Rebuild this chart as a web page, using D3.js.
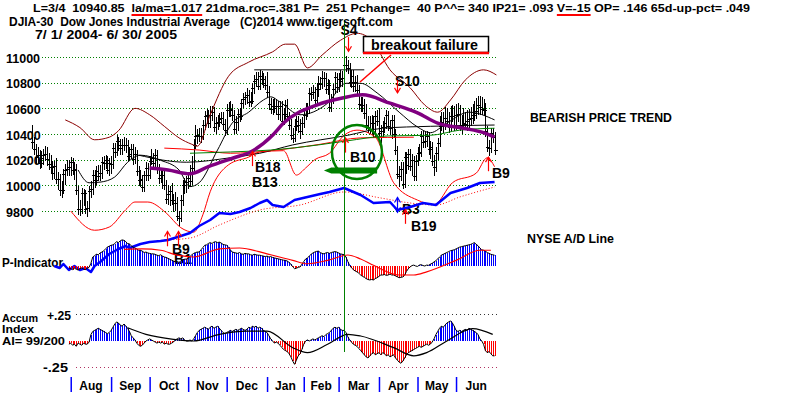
<!DOCTYPE html>
<html>
<head>
<meta charset="utf-8">
<title>DJIA-30 Dow Jones Industrial Average</title>
<script src="https://d3js.org/d3.v7.min.js"></script>
<style>
  body { margin: 0; background: #fff; }
  svg { display: block; font-family: 'Liberation Sans', Arial, Helvetica, sans-serif; font-weight: bold; }
</style>
</head>
<body>
<script>
// daily bars, day 0 = 7/1/2004 ... day 252 = 6/30/2005
var highs = [
  10470,10375,10320,10295,10275,10265,10285,10305,10300,10255,10240,10190,10190,10215,10105,10085,10030,10125,10165,10200,10195,
  10220,10215,10180,10165,9995,9885,9980,9975,9965,9880,9995,10030,10120,10120,10150,10155,10160,10220,10230,10240,10230,10215,
  10230,10330,10330,10390,10380,10360,10360,10375,10370,10350,10295,10320,10320,10300,10275,10150,10120,10080,10115,10180,10175,
  10230,10285,10255,10280,10275,10165,10125,10115,10130,10040,10000,9995,10015,9930,9950,9910,9800,9925,10040,10055,10070,
  10100,10160,10230,10360,10470,10440,10450,10450,10510,10580,10595,10585,10620,10620,10610,10530,10550,10565,10570,10575,10520,
  10630,10650,10660,10630,10590,10540,10595,10600,10675,10720,10730,10755,10740,10730,10800,10860,10880,10880,10900,10890,10875,10850,
  10885,10775,10680,10670,10680,10670,10655,10655,10655,10605,10665,10670,10575,10520,10450,10515,10540,10540,10520,10530,
  10595,10640,10645,10755,10765,10780,10765,10790,10850,10845,10890,10885,10875,10830,10820,10715,10790,10880,10875,
  10875,10900,10890,11040,11010,10980,10950,10895,10900,10850,10860,10785,10690,10685,10670,10630,10540,10540,10550,10540,10580,10590,
  10600,10470,10500,10535,10590,10580,10510,10550,10545,10440,10310,10150,10180,10180,10260,10260,10285,10280,10245,10230,10240,
  10300,10320,10425,10420,10420,10425,10415,10345,10340,10240,10295,10370,10540,10575,10570,10610,10605,10575,10620,10625,10615,
  10635,10640,10625,10550,10605,10575,10585,10595,10610,10630,10660,10680,10700,10700,10685,10670,10640,10460,10350,10445,10450,10415
];
var lows = [
  10280,10235,10170,10165,10130,10135,10160,10190,10150,10120,10095,10040,10050,10010,9960,9920,9900,9930,10000,10070,10075,
  10070,10080,10040,9925,9770,9760,9780,9840,9775,9750,9790,9905,9925,9980,10000,10030,10030,10050,10120,10130,10085,10070,
  10090,10130,10210,10225,10265,10240,10240,10265,10255,10190,10195,10205,10160,10170,10070,9995,9990,9945,9945,10030,10030,
  10050,10160,10130,10140,10085,10010,10020,9970,9960,9855,9850,9840,9850,9790,9800,9720,9680,9715,9840,9930,9940,
  9970,9990,10000,10100,10280,10325,10335,10330,10350,10430,10475,10445,10450,10500,10415,10400,10430,10455,10475,10430,10385,
  10395,10530,10535,10500,10400,10400,10420,10495,10510,10600,10625,10630,10610,10610,10630,10715,10770,10740,10740,10780,10760,10740,
  10680,10585,10555,10550,10560,10550,10510,10500,10465,10470,10490,10500,10430,10355,10330,10335,10420,10410,10360,10395,
  10450,10510,10530,10555,10660,10670,10620,10625,10690,10740,10750,10770,10715,10705,10570,10570,10630,10710,10720,
  10730,10765,10770,10800,10885,10865,10765,10760,10730,10730,10705,10590,10570,10570,10520,10430,10410,10400,10405,10370,10370,10460,
  10365,10330,10370,10410,10440,10420,10395,10360,10365,10240,10050,9990,10035,9970,9980,10090,10120,10110,10070,10030,10035,
  10150,10190,10220,10290,10290,10300,10240,10205,10150,10070,10105,10200,10295,10420,10410,10435,10460,10410,10425,10490,10425,
  10430,10490,10420,10400,10430,10430,10420,10450,10465,10475,10500,10520,10545,10550,10550,10540,10380,10260,10230,10255,10330,10235
];
var closes = [
  10334,10282,10219,10240,10171,10214,10238,10247,10208,10163,10139,10094,10149,10046,10050,9962,9961,10085,10117,10129,10140,
  10179,10120,10127,9963,9815,9814,9944,9938,9814,9825,9954,9972,10083,10040,10110,10073,10098,10181,10173,10195,10122,10173,
  10168,10290,10260,10342,10313,10289,10313,10314,10318,10231,10244,10284,10204,10244,10109,10039,10047,9988,10077,10136,10080,
  10192,10216,10177,10239,10126,10055,10081,10077,10002,9894,9933,9956,9886,9866,9865,9758,9749,9888,10002,10004,10027,
  10054,10035,10137,10315,10387,10391,10386,10385,10469,10539,10551,10487,10549,10572,10456,10489,10492,10520,10522,10475,10428,
  10590,10585,10592,10547,10440,10494,10553,10543,10638,10676,10691,10705,10649,10661,10759,10815,10827,10777,10854,10829,10800,10783,
  10729,10630,10597,10622,10603,10621,10556,10617,10505,10558,10628,10539,10471,10393,10368,10462,10498,10467,10427,10489,
  10551,10596,10593,10716,10715,10724,10664,10749,10796,10791,10837,10834,10754,10785,10611,10673,10748,10841,10766,
  10830,10811,10833,10941,10936,10912,10805,10851,10774,10804,10745,10633,10626,10629,10565,10471,10457,10442,10485,10405,10540,10504,
  10404,10421,10458,10486,10546,10461,10448,10508,10403,10278,10087,10071,10128,10012,10219,10157,10242,10151,10198,10071,10193,
  10251,10256,10384,10340,10345,10384,10281,10300,10189,10140,10252,10331,10464,10493,10471,10523,10504,10457,10542,10542,10467,
  10550,10553,10460,10467,10483,10476,10503,10513,10522,10547,10566,10578,10623,10609,10596,10587,10421,10297,10290,10405,10374,10275
];

var priceTicks = [9800, 10000, 10200, 10400, 10600, 10800, 11000];
var monthNames = ["Aug", "Sep", "Oct", "Nov", "Dec", "Jan", "Feb", "Mar", "Apr", "May", "Jun"];
var monthStarts = [21, 43, 64, 85, 106, 128, 148, 167, 189, 210, 231];
var lastDay = 253;

// overlays on the price panel: [day, value]
var upperBand = [[18,10510],[26,10450],[34,10355],[42,10375],[47,10425],[56,10600],[64,10550],[72,10460],[80,10370],[87,10320],[90,10305],[97,10550],[107,10850],[118,10960],[131,11040],[138,11100],[143,11100],[150,10915],[158,11015],[168,11130],[177,11185],[185,11130],[195,10900],[206,10760],[214,10625],[221,10570],[228,10665],[236,10820],[246,10900],[253,10860]];
var lowerBand = [[21,9800],[34,9650],[42,9675],[51,9810],[56,9870],[63,9870],[73,9785],[81,9670],[88,9635],[93,9770],[97,9950],[107,10160],[118,10220],[124,10260],[137,10270],[144,10080],[149,10135],[154,10200],[162,10250],[170,10390],[177,10430],[187,10375],[197,10020],[210,9885],[219,9850],[229,10020],[242,10095],[248,10215],[252,10145]];
var ma21 = [[25,10120],[31,10020],[37,10025],[45,10065],[52,10180],[59,10235],[70,10195],[80,10120],[86,9990],[91,10020],[101,10275],[109,10485],[118,10570],[126,10665],[130,10690],[135,10650],[146,10550],[161,10640],[171,10795],[179,10795],[188,10720],[200,10570],[210,10455],[217,10410],[226,10485],[238,10570],[252,10510]];
var maLong = [[58,10235],[84,10180],[108,10215],[124,10250],[142,10315],[172,10390],[191,10445],[217,10460],[252,10470]];
var maRed = [[72,10290],[91,10275],[108,10250],[130,10270],[157,10320],[179,10370],[208,10375]];
var maGreen = [[86,10250],[108,10260],[130,10275],[156,10315],[171,10345],[194,10385],[217,10390],[233,10430],[252,10445]];
var maPurple = [[64,10135],[74,10120],[86,10090],[96,10145],[110,10215],[119,10260],[131,10390],[137,10485],[155,10625],[169,10680],[180,10705],[195,10640],[210,10565],[221,10485],[235,10445],[246,10410],[252,10375]];
var adLine = [[12,9],[15,7],[17,11],[20,5],[23,9],[26,5],[29,7],[32,3],[34,9],[37,13],[42,21],[47,26],[51,29],[53,27],[59,31],[64,33],[70,34],[74,35],[81,39],[86,42],[91,49],[97,55],[102,62],[108,61],[113,63],[119,67],[124,72],[128,75],[131,70],[137,68],[143,75],[150,78],[157,81],[162,83],[170,87],[179,80],[186,72],[195,73],[199,65],[206,68],[213,72],[220,70],[228,82],[237,87],[244,92],[252,93]];
var adMA = [[72,35],[86,37],[102,50],[124,65],[146,70],[170,83],[190,77],[206,72],[220,70],[233,78],[252,88]];
var resistanceDays = [121, 181], resistanceLevel = 10900;

// P-Indicator and Accumulation Index, daily from day 20
var indStart = 20;
var pIndicator = [
  -40,-60,-80,-50,-70,-90,-60,-40,-70,-80,-50,-30,60,
  200,230,260,250,290,310,340,380,420,440,460,
  470,500,540,520,560,580,570,540,500,490,
  450,420,400,380,350,350,330,300,310,290,280,270,
  270,260,240,230,250,220,200,190,170,150,130,110,
  90,100,80,110,140,150,155,170,210,250,280,300,310,
  310,360,410,460,470,500,520,500,530,540,520,
  530,510,480,470,460,420,360,310,300,290,
  280,300,270,260,280,270,270,250,240,260,250,240,
  240,230,220,210,220,200,210,190,180,170,160,150,
  140,130,125,110,80,40,-20,-60,-50,-30,-20,40,100,155,
  180,220,260,290,310,325,330,300,280,270,290,300,280,300,310,320,
  310,290,270,260,251,200,100,15,-40,-80,-110,
  -130,-160,-200,-230,-250,-280,-300,-310,-300,-310,-280,-260,-230,-200,
  -200,-190,-210,-200,-180,-200,-200,-220,-240,-260,-250,-245,-200,-120,-60,
  -20,10,20,0,-10,20,30,10,0,20,15,40,60,90,120,
  155,200,240,260,280,300,320,340,350,360,380,400,420,430,440,
  450,460,470,480,500,520,480,450,400,360,350,330,300,280,260,250,240
];
var pMA = [[50,370],[60,380],[70,350],[79,240],[88,200],[102,380],[113,400],[128,270],[142,125],[150,50],[161,125],[172,245],[179,155],[186,15],[200,-200],[208,-200],[215,-130],[231,125],[244,350],[250,350]];
var accum = [
  -3,-2,-4,-3,-5,-2,-3,-4,-2,-3,-3,-1,6,
  9,10,11,12,11,10,9,8,7,8,10,
  13,16,18,17,15,14,16,14,12,9,
  5,3,1,-2,-4,-5,-4,-2,0,1,2,1,
  0,-1,-2,-1,-2,-1,-3,-2,-3,-3,-2,-1,
  1,2,3,2,3,1,0,0,1,0,2,5,8,
  10,11,12,13,12,11,13,14,12,13,14,
  12,10,8,7,8,9,10,9,10,11,
  10,11,12,11,10,11,13,12,14,13,14,12,
  13,12,10,9,8,5,2,0,-2,-1,-2,-4,
  -6,-8,-9,-10,-12,-15,-19,-22,-18,-14,-12,-8,-3,0,
  1,0,1,2,1,2,3,4,5,4,6,7,8,10,12,13,
  12,13,11,10,10,8,4,1,-1,-3,-4,
  -5,-7,-9,-11,-13,-15,-16,-14,-12,-11,-13,-12,-11,-13,
  -11,-12,-14,-13,-15,-14,-13,-16,-18,-20,-21,-19,-16,-13,-11,
  -10,-9,-8,-7,-6,-5,-6,-5,-4,-3,-4,-3,-1,2,6,
  9,12,14,13,15,17,18,19,17,14,10,9,10,9,10,
  11,10,12,11,10,9,8,6,2,0,-3,-9,-11,-10,-12,-14,-14
];
var accumMA = [[52,12.5],[62,6.3],[77,1.6],[88,0],[102,6.3],[117,9.4],[128,9.4],[142,-6.3],[150,-11],[161,-3.1],[172,6.3],[179,4.7],[197,-6.3],[208,-14],[215,-11],[226,0],[240,11.6],[251,6.3]];

// signals
var signalDay = 170;
var arrows = [
  {day: 172, from: 11155, to: 11045},
  {day: 199, from: 10820, to: 10720},
  {day: 120, from: 10150, to: 10265},
  {day: 170.5, from: 10255, to: 10370},
  {day: 248.5, from: 10110, to: 10220},
  {day: 203, from: 9700, to: 9810},
  {day: 73.5, from: 9525, to: 9640},
  {day: 79.5, from: 9525, to: 9640}
];
var signalLabels = [
  {text: "S4", day: 168, price: 11170},
  {text: "S10", day: 197.7, price: 10775},
  {text: "B18", day: 121.4, price: 10105},
  {text: "B13", day: 119.8, price: 9985},
  {text: "B10", day: 173.2, price: 10180},
  {text: "B9", day: 250.6, price: 10055},
  {text: "B3", day: 201.5, price: 9775},
  {text: "B19", day: 206.4, price: 9645},
  {text: "B9", day: 76.2, price: 9465},
  {text: "B1", day: 77.3, price: 9390}
];

var W = 800, H = 397;
var FONT = "'Liberation Sans', Arial, Helvetica, sans-serif";
var svg = d3.select('body').append('svg')
    .attr('width', W)
    .attr('height', H);
svg.append('rect').attr('width', W).attr('height', H).attr('fill', '#fff');

var x = d3.scaleLinear().domain([0, lastDay]).range([32.2, 496.4]);
var yPrice = d3.scaleLinear().domain([9800, 11000]).range([211, 57]);
var yAD = d3.scaleLinear().domain([0, 100]).range([275, 175]);
var yP = d3.scaleLinear().domain([-600, 600]).range([293, 239]);
var yAI = d3.scaleLinear().domain([-25, 25]).range([367.5, 314.5]);
function px(d) { return Math.round(x(d)) + 0.5; }

// price grid
svg.append('g').selectAll('line').data(priceTicks).join('line')
    .attr('x1', 42).attr('x2', 498)
    .attr('y1', d => Math.round(yPrice(d)) + 0.5).attr('y2', d => Math.round(yPrice(d)) + 0.5)
    .attr('stroke', '#008000').attr('stroke-dasharray', '1,2');

var yAxis = d3.axisRight(yPrice).tickValues(priceTicks).tickSize(0).tickPadding(0).tickFormat(d3.format('d'));
var yg = svg.append('g').attr('transform', 'translate(6,0)').call(yAxis);
yg.select('.domain').remove();
yg.attr('font-size', 12.5).attr('font-family', FONT).attr('font-weight', 'bold');
yg.selectAll('text').attr('fill', '#000').attr('dy', '0.42em');

// AI grid
svg.append('line').attr('x1', 76).attr('x2', 498).attr('y1', 314.5).attr('y2', 314.5)
    .attr('stroke', '#333').attr('stroke-dasharray', '1,3');
svg.append('line').attr('x1', 76).attr('x2', 498).attr('y1', 367.5).attr('y2', 367.5)
    .attr('stroke', '#b03060').attr('stroke-dasharray', '1,3');

function pline(pts, scale, curve) {
    return d3.line().x(d => x(d[0])).y(d => scale(d[1])).curve(curve || d3.curveMonotoneX)(pts);
}

// bars
var days = d3.range(closes.length);
var bars = svg.append('g').attr('stroke', '#000').attr('shape-rendering', 'crispEdges');
bars.selectAll('line.hl').data(days).join('line').attr('class', 'hl')
    .attr('x1', px).attr('x2', px)
    .attr('y1', i => yPrice(highs[i])).attr('y2', i => yPrice(lows[i]));
bars.selectAll('line.cl').data(days).join('line').attr('class', 'cl')
    .attr('x1', i => px(i) - 2).attr('x2', i => px(i) + 2)
    .attr('y1', i => Math.round(yPrice(closes[i])) + 0.5).attr('y2', i => Math.round(yPrice(closes[i])) + 0.5);

// overlay lines
svg.append('path').attr('d', pline(upperBand, yPrice)).attr('fill', 'none').attr('stroke', '#8b0000').attr('stroke-width', 1);
svg.append('path').attr('d', pline(lowerBand, yPrice)).attr('fill', 'none').attr('stroke', '#ff0000').attr('stroke-width', 1);
svg.append('path').attr('d', pline(maLong, yPrice)).attr('fill', 'none').attr('stroke', '#000').attr('stroke-width', 1);
svg.append('path').attr('d', pline(maRed, yPrice)).attr('fill', 'none').attr('stroke', '#ff0000').attr('stroke-width', 1);
svg.append('path').attr('d', pline(maGreen, yPrice)).attr('fill', 'none').attr('stroke', '#008000').attr('stroke-width', 1);
svg.append('path').attr('d', pline(ma21, yPrice)).attr('fill', 'none').attr('stroke', '#000').attr('stroke-width', 1);
svg.append('path').attr('d', pline(maPurple, yPrice)).attr('fill', 'none').attr('stroke', '#800080').attr('stroke-width', 3.5);
svg.append('line')
    .attr('x1', x(resistanceDays[0])).attr('x2', x(resistanceDays[1]))
    .attr('y1', yPrice(resistanceLevel)).attr('y2', yPrice(resistanceLevel))
    .attr('stroke', '#000').attr('stroke-width', 1);

// panel labels (drawn under the lines and bars)
function label(t, lx, ly, size, len) {
    var el = svg.append('text').attr('x', lx).attr('y', ly).attr('font-size', size)
        .attr('font-family', FONT).attr('font-weight', 'bold').attr('fill', '#000')
        .style('white-space', 'pre').text(t);
    if (len) el.attr('textLength', len).attr('lengthAdjust', 'spacingAndGlyphs');
    return el;
}
label('P-Indicator', 2, 267, 12, 61);
label('Accum', 2, 321.5, 11, 36);
label('Index', 2, 333, 11, 32);
label('AI= 99/200', 2, 344.5, 11.5, 63);
label('+.25', 47, 320, 12, 24);
label('-.25', 43, 372, 12, 25);
label('BEARISH PRICE TREND', 530, 122, 12, 142);
label('NYSE A/D Line', 527, 243, 12, 87);

// signal labels
svg.append('g').selectAll('text').data(signalLabels).join('text')
    .attr('x', d => x(d.day)).attr('y', d => yPrice(d.price))
    .attr('font-size', 14).attr('font-family', FONT).attr('font-weight', 'bold').attr('fill', '#000')
    .text(d => d.text);

// A/D line
svg.append('path').attr('d', pline(adMA, yAD)).attr('fill', 'none').attr('stroke', '#ff0000')
    .attr('stroke-width', 1).attr('stroke-dasharray', '1,2');
svg.append('path').attr('d', pline(adLine, yAD, d3.curveLinear)).attr('fill', 'none').attr('stroke', '#0000ff')
    .attr('stroke-width', 2.5).attr('stroke-linejoin', 'round');

// histograms
function histogram(vals, scale, ma) {
    var g = svg.append('g').attr('shape-rendering', 'crispEdges');
    g.selectAll('line').data(vals).join('line')
        .attr('x1', (v, i) => px(i + indStart)).attr('x2', (v, i) => px(i + indStart))
        .attr('y1', scale(0)).attr('y2', v => scale(v))
        .attr('stroke', v => v >= 0 ? '#0000ff' : '#ff0000').attr('stroke-width', 1);
    svg.append('path')
        .attr('d', d3.line().x((v, i) => x(i + indStart)).y(v => scale(v))(vals))
        .attr('fill', 'none').attr('stroke', '#000').attr('stroke-width', 1);
    svg.append('path').attr('d', pline(ma, scale)).attr('fill', 'none')
        .attr('stroke', scale === yP ? '#ff0000' : '#000').attr('stroke-width', 1.2);
}
histogram(pIndicator, yP, pMA);
histogram(accum, yAI, accumMA);

// month axis
var xAxis = d3.axisBottom(x).tickValues(monthStarts).tickSize(15).tickFormat('');
var xg = svg.append('g').attr('transform', 'translate(0,377)').call(xAxis);
xg.select('.domain').remove();
xg.selectAll('.tick line').attr('stroke', '#0000ff').attr('stroke-width', 1.5);
svg.append('g').selectAll('text').data(monthNames).join('text')
    .attr('x', (m, i) => x((monthStarts[i] + (monthStarts[i + 1] || lastDay)) / 2))
    .attr('y', 390).attr('text-anchor', 'middle')
    .attr('font-size', 12).attr('font-family', FONT).attr('font-weight', 'bold').attr('fill', '#000')
    .text(m => m);

// signal arrows
function arrow(ax, y0, y1, color, both) {
    var g = svg.append('g').attr('stroke', color).attr('stroke-width', 1.2).attr('fill', 'none');
    g.append('line').attr('x1', ax).attr('x2', ax).attr('y1', y0).attr('y2', y1);
    var dir = y1 < y0 ? 1 : -1;
    g.append('polyline').attr('points', [[ax - 3, y1 + dir * 5], [ax, y1], [ax + 3, y1 + dir * 5]].join(' '));
    if (both) g.append('polyline').attr('points', [[ax - 3, y0 - dir * 5], [ax, y0], [ax + 3, y0 - dir * 5]].join(' '));
}
arrows.forEach(a => arrow(px(a.day), yPrice(a.from), yPrice(a.to), '#ff0000'));
arrow(px(199), yPrice(9905), yPrice(9790), '#0000ff', true);

// Mar 4 marker line
svg.append('line').attr('x1', px(signalDay)).attr('x2', px(signalDay)).attr('y1', 20).attr('y2', 352)
    .attr('stroke', '#008000').attr('stroke-width', 1);

// B10 circle and bar
svg.append('ellipse').attr('cx', x(177)).attr('cy', yPrice(10260)).attr('rx', 25).attr('ry', 27)
    .attr('fill', 'none').attr('stroke', '#008000').attr('stroke-width', 2.5);
var gb = [x(159), x(163), x(188)], gy = yPrice(10115);
svg.append('polygon')
    .attr('points', [[gb[0], gy], [gb[1], gy - 3], [gb[2], gy - 3], [gb[2], gy + 3], [gb[1], gy + 3]].join(' '))
    .attr('fill', '#008000');

// breakout failure callout
svg.append('rect').attr('x', 363.5).attr('y', 36.5).attr('width', 125).attr('height', 16)
    .attr('fill', '#fff').attr('stroke', '#000').attr('stroke-width', 1.5);
svg.append('line').attr('x1', 363).attr('x2', 489).attr('y1', 53).attr('y2', 53)
    .attr('stroke', '#ff0000').attr('stroke-width', 2.5);
label('breakout failure', 371, 49.5, 14, 107);
svg.append('line').attr('x1', 391).attr('y1', 55).attr('x2', 360).attr('y2', 82)
    .attr('stroke', '#ff0000').attr('stroke-width', 1.5);

// header
var h1 = label('L=3/4  10940.85  la/ma=1.017 21dma.roc=.381 P=  251 Pchange=  40 P^^= 340 IP21= .093 V=-15 OP= .146 65d-up-pct= .049', 33, 12, 11, 717);
label('DJIA-30  Dow Jones Industrial Average   (C)2014 www.tigersoft.com', 9, 26, 12.5, 384);
label('7/ 1/ 2004- 6/ 30/ 2005', 35, 38.5, 12, 142);
var t1 = h1.text(), n1 = h1.node();
['la/ma=1.017', 'V=-15'].forEach(function (s) {
    var i = t1.indexOf(s);
    var a = n1.getStartPositionOfChar(i).x, b = n1.getEndPositionOfChar(i + s.length - 1).x;
    svg.append('line').attr('x1', a).attr('x2', b).attr('y1', 15).attr('y2', 15)
        .attr('stroke', '#ff0000').attr('stroke-width', 2);
});
</script>
</body>
</html>
